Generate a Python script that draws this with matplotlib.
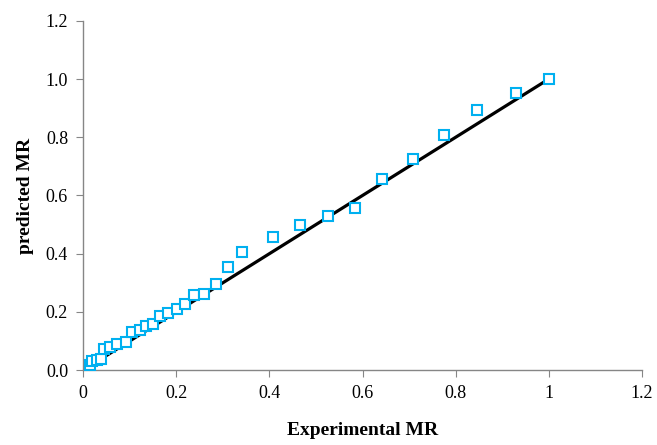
import matplotlib.pyplot as plt
from matplotlib.ticker import FixedLocator, FixedFormatter

experimental = [0.014, 0.019, 0.030, 0.037, 0.044, 0.058, 0.072, 0.091, 0.104, 0.122,
                0.134, 0.149, 0.165, 0.183, 0.201, 0.219, 0.237, 0.259, 0.285, 0.311,
                0.342, 0.407, 0.466, 0.525, 0.584, 0.641, 0.709, 0.775, 0.846, 0.929, 1.0]
predicted = [0.017, 0.031, 0.034, 0.039, 0.072, 0.080, 0.090, 0.095, 0.132, 0.136,
             0.151, 0.158, 0.187, 0.197, 0.211, 0.226, 0.257, 0.262, 0.296, 0.353,
             0.407, 0.456, 0.498, 0.530, 0.558, 0.656, 0.727, 0.808, 0.893, 0.951, 1.0]
line_x = [0, 1]
line_y = [0, 1]

x_ticks = [0, 0.2, 0.4, 0.6, 0.8, 1.0, 1.2]
x_labels = ["0", "0.2", "0.4", "0.6", "0.8", "1", "1.2"]
y_ticks = [0, 0.2, 0.4, 0.6, 0.8, 1.0, 1.2]
y_labels = ["0.0", "0.2", "0.4", "0.6", "0.8", "1.0", "1.2"]

plt.rcParams['font.family'] = ['Liberation Serif', 'DejaVu Serif']

fig = plt.figure(figsize=(6.57, 4.45), dpi=100)
ax = fig.add_axes([0.1268, 0.1685, 0.850, 0.7845])

ax.plot(line_x, line_y, color="black", linewidth=2.3, zorder=2)
ax.plot(experimental, predicted, linestyle="none", marker="s", markersize=6.5,
        markerfacecolor="white", markeredgecolor="#00B0F0", markeredgewidth=1.5, zorder=3)

ax.set_xlim(0, 1.2)
ax.set_ylim(0, 1.2)
ax.xaxis.set_major_locator(FixedLocator(x_ticks))
ax.xaxis.set_major_formatter(FixedFormatter(x_labels))
ax.yaxis.set_major_locator(FixedLocator(y_ticks))
ax.yaxis.set_major_formatter(FixedFormatter(y_labels))

for side in ["top", "right"]:
    ax.spines[side].set_visible(False)
for side in ["left", "bottom"]:
    ax.spines[side].set_color("#868686")
    ax.spines[side].set_linewidth(1.0)
ax.tick_params(direction="out", length=5, color="#868686", labelsize=13, pad=6)

ax.set_xlabel("Experimental MR", fontsize=14, fontweight="bold", labelpad=14)
ax.set_ylabel("predicted MR", fontsize=14, fontweight="bold", labelpad=8)

fig.savefig("out.png", dpi=100)
